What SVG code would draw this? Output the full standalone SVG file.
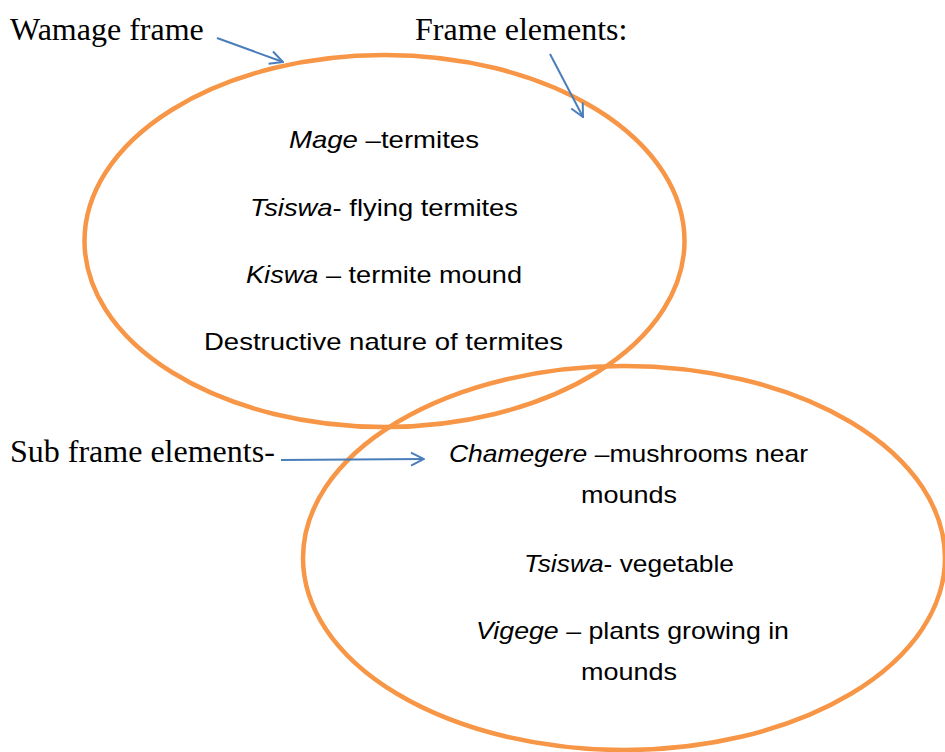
<svg xmlns="http://www.w3.org/2000/svg" width="945" height="752" viewBox="0 0 945 752">
<style>
.frame{fill:none;stroke:#f79646;stroke-width:4.5}
.lbl{font-family:"Liberation Serif","Times New Roman",serif;font-size:32px;fill:#000}
.in{font-family:"Liberation Sans",Arial,sans-serif;font-size:24px;fill:#000}
.it{font-style:italic}
.conn{fill:none;stroke:#4a7ebb;stroke-width:2}
</style>
<defs>
<marker id="ah" viewBox="0 0 16 16" refX="15" refY="8" markerWidth="16" markerHeight="16" markerUnits="userSpaceOnUse" orient="auto">
<polyline points="2,1.5 15,8 2,14.5" fill="none" stroke="#4a7ebb" stroke-width="2"/>
</marker>
</defs>
<rect width="945" height="752" fill="#fff"/>
<g id="frame-wamage">
<ellipse class="frame" cx="384.5" cy="241" rx="300" ry="186"/>
<text class="in" x="289" y="148" textLength="190" lengthAdjust="spacingAndGlyphs"><tspan class="it">Mage</tspan> –termites</text>
<text class="in" x="250" y="216" textLength="268" lengthAdjust="spacingAndGlyphs"><tspan class="it">Tsiswa</tspan>- flying termites</text>
<text class="in" x="246" y="283" textLength="276" lengthAdjust="spacingAndGlyphs"><tspan class="it">Kiswa</tspan> – termite mound</text>
<text class="in" x="204" y="350" textLength="359" lengthAdjust="spacingAndGlyphs">Destructive nature of termites</text>
</g>
<g id="frame-sub">
<ellipse class="frame" cx="624" cy="558" rx="321" ry="192"/>
<text class="in" x="449" y="462" textLength="359" lengthAdjust="spacingAndGlyphs"><tspan class="it">Chamegere</tspan> –mushrooms near</text>
<text class="in" x="581" y="503" textLength="96" lengthAdjust="spacingAndGlyphs">mounds</text>
<text class="in" x="524" y="572" textLength="210" lengthAdjust="spacingAndGlyphs"><tspan class="it">Tsiswa</tspan>- vegetable</text>
<text class="in" x="476" y="639" textLength="313" lengthAdjust="spacingAndGlyphs"><tspan class="it">Vigege</tspan> – plants growing in</text>
<text class="in" x="581" y="680" textLength="96" lengthAdjust="spacingAndGlyphs">mounds</text>
</g>
<g id="label-wamage"><text class="lbl" x="10" y="40">Wamage frame</text></g>
<g id="label-frame-elements"><text class="lbl" x="415" y="40">Frame elements:</text></g>
<g id="label-sub"><text class="lbl" x="10" y="462">Sub frame elements-</text></g>
<g id="connectors">
<line class="conn" x1="217" y1="38" x2="283" y2="62" marker-end="url(#ah)"/>
<line class="conn" x1="550" y1="54" x2="583" y2="117" marker-end="url(#ah)"/>
<line class="conn" x1="281" y1="460" x2="424" y2="459" marker-end="url(#ah)"/>
</g>
</svg>
